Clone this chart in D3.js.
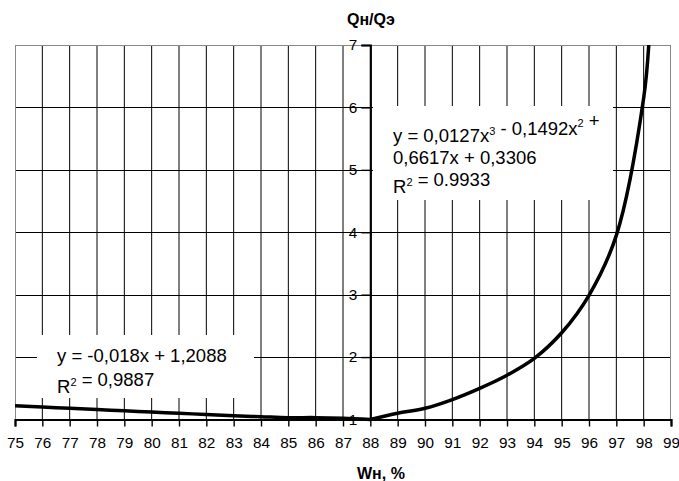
<!DOCTYPE html>
<html>
<head>
<meta charset="utf-8">
<script src="https://cdn.jsdelivr.net/npm/d3@7"></script>
<style>
  html, body { margin: 0; padding: 0; background: #fff; }
  svg { display: block; font-family: "Liberation Sans", Arial, sans-serif; }
</style>
</head>
<body>
<svg id="chart" width="679" height="481"></svg>
<script>
// Moisture content of the product, %
const xTicks = d3.range(75, 100);
const yTicks = [1, 2, 3, 4, 5, 6, 7];

// Left branch: Qн/Qэ against Wн from 75 to 88 %
const leftW = [75, 76, 77, 78, 79, 80, 81, 82, 83, 84, 85, 86, 87, 88];
const leftQ = [1.22, 1.20, 1.18, 1.16, 1.14, 1.12, 1.10, 1.08, 1.06, 1.045, 1.03, 1.03, 1.02, 1.0];

// Right branch: Qн/Qэ against Wн from 88 % upward
const rightW = [88, 89, 90, 91, 92, 93, 94, 95, 96, 97, 98, 98.2];
const rightQ = [1.0, 1.1, 1.18, 1.32, 1.5, 1.71, 1.98, 2.39, 2.99, 3.95, 6.15, 7.1];

const svg = d3.select("#chart");
const plotL = 15, plotR = 671, plotT = 45, plotB = 419.5;

const x = d3.scaleLinear().domain([75, 99]).range([plotL, plotR]);
const y = d3.scaleLinear().domain([1, 7]).range([plotB, plotT]);

// vertical grid lines
svg.append("g")
  .selectAll("line")
  .data(xTicks.filter(d => d > 75 && d < 99 && d !== 88))
  .join("line")
  .attr("x1", d => x(d)).attr("x2", d => x(d))
  .attr("y1", plotT).attr("y2", plotB)
  .attr("stroke", "#000").attr("stroke-width", 1);

// horizontal grid lines
svg.append("g")
  .selectAll("line")
  .data(yTicks.filter(d => d > 1 && d < 7))
  .join("line")
  .attr("x1", plotL).attr("x2", plotR)
  .attr("y1", d => Math.round(y(d)) + 0.5).attr("y2", d => Math.round(y(d)) + 0.5)
  .attr("stroke", "#000").attr("stroke-width", 1);

// plot frame
svg.append("rect")
  .attr("x", plotL + 0.5).attr("y", plotT + 0.5)
  .attr("width", plotR - plotL - 1).attr("height", plotB - plotT)
  .attr("fill", "none").attr("stroke", "#888").attr("stroke-width", 1);

// trendline label backgrounds
svg.append("rect").attr("x", 373).attr("y", 106).attr("width", 240).attr("height", 94).attr("fill", "#fff");
svg.append("rect").attr("x", 37).attr("y", 335).attr("width", 217).attr("height", 63).attr("fill", "#fff");

// x axis (at Qн/Qэ = 1)
const xAxis = d3.axisBottom(x).tickValues(xTicks).tickSize(7).tickPadding(11).tickFormat(d3.format("d"));
const gx = svg.append("g").attr("transform", `translate(0,${y(1)})`).call(xAxis);
gx.select(".domain").attr("stroke", "#000").attr("stroke-width", 2.2);
gx.selectAll(".tick line").attr("stroke", "#000").attr("stroke-width", 1.4);
gx.selectAll(".tick text").attr("font-size", 15.3).attr("fill", "#000").attr("dy", "0.71em");

// y axis (at Wн = 88)
const yAxis = d3.axisLeft(y).tickValues(yTicks).tickSize(9).tickPadding(4).tickFormat(d3.format("d"));
const gy = svg.append("g").attr("transform", `translate(${x(88)},0)`).call(yAxis);
gy.select(".domain").attr("stroke", "#000").attr("stroke-width", 2.2);
gy.selectAll(".tick line").attr("stroke", "#000").attr("stroke-width", 1.4);
gy.selectAll(".tick text").attr("font-size", 15.3).attr("fill", "#000");

// data curves
svg.append("clipPath").attr("id", "plot-clip")
  .append("rect").attr("x", plotL).attr("y", plotT).attr("width", plotR - plotL).attr("height", plotB - plotT + 4);

const line = d3.line().x(d => x(d[0])).y(d => y(d[1])).curve(d3.curveCatmullRom.alpha(0.5));
const curves = svg.append("g").attr("clip-path", "url(#plot-clip)");
curves.append("path")
  .datum(d3.zip(leftW, leftQ))
  .attr("d", line)
  .attr("fill", "none").attr("stroke", "#000").attr("stroke-width", 3.5);
curves.append("path")
  .datum(d3.zip(rightW, rightQ))
  .attr("d", line)
  .attr("fill", "none").attr("stroke", "#000").attr("stroke-width", 3.5);

// trendline equations; array entries are superscripts
function eqLine(xPos, yPos, parts) {
  const t = svg.append("text").attr("x", xPos).attr("y", yPos).attr("font-size", 18.5).attr("fill", "#000");
  parts.forEach(p => {
    if (Array.isArray(p)) {
      t.append("tspan").attr("font-size", 11).attr("dy", -7.5).text(p[0]);
      t.append("tspan").attr("dy", 7.5).text("");
    } else {
      t.append("tspan").text(p);
    }
  });
}
eqLine(393, 142, ["y = 0,0127x", ["3"], " - 0,1492x", ["2"], " +"]);
eqLine(393, 164, ["0,6617x + 0,3306"]);
eqLine(393, 193, ["R", ["2"], " = 0.9933"]);

eqLine(57, 362, ["y = -0,018x + 1,2088"]);
eqLine(57, 393, ["R", ["2"], " = 0,9887"]);

// axis titles
svg.append("text").attr("x", 347).attr("y", 25)
  .attr("font-size", 16).attr("font-weight", "bold").text("Qн/Qэ");
svg.append("text").attr("x", 357).attr("y", 479)
  .attr("font-size", 16).attr("font-weight", "bold").text("Wн, %");
</script>
</body>
</html>
